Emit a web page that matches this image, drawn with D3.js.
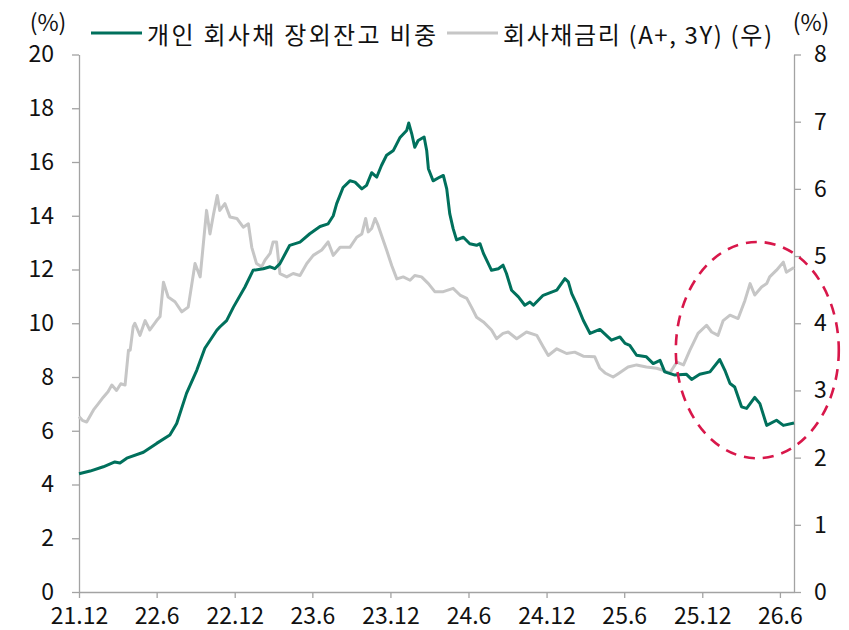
<!DOCTYPE html>
<html>
<head>
<meta charset="utf-8">
<script src="https://cdn.jsdelivr.net/npm/d3@7/dist/d3.min.js"></script>
<style>
  html, body { margin: 0; padding: 0; background: #fff; }
  svg { display: block; }
  text { font-family: "Noto Sans CJK KR", "Noto Sans", sans-serif; fill: #111; }
</style>
</head>
<body>
<svg id="chart" width="849" height="630"></svg>
<script>
// 개인 회사채 장외잔고 비중 (%, left axis)
const shareDates = [
  "2021-12-01","2021-12-27","2022-01-27","2022-02-23","2022-03-07","2022-03-23","2022-05-01","2022-06-01",
  "2022-07-02","2022-07-18","2022-08-10","2022-09-03","2022-09-22","2022-10-20","2022-10-27","2022-11-12",
  "2022-11-28","2022-12-25","2023-01-13","2023-02-06","2023-02-22","2023-03-05","2023-03-17","2023-04-09",
  "2023-05-03","2023-05-26","2023-06-19","2023-07-08","2023-07-20","2023-07-28","2023-08-12","2023-08-28",
  "2023-09-09","2023-09-25","2023-10-06","2023-10-18","2023-10-30","2023-11-10","2023-11-22","2023-12-08",
  "2023-12-23","2024-01-08","2024-01-13","2024-01-20","2024-01-27","2024-02-04","2024-02-18","2024-02-24",
  "2024-02-28","2024-03-10","2024-03-26","2024-04-03","2024-04-11","2024-04-18","2024-04-26","2024-05-04",
  "2024-05-20","2024-06-04","2024-06-20","2024-06-28","2024-07-06","2024-07-25","2024-08-10","2024-08-21",
  "2024-08-29","2024-09-10","2024-09-26","2024-10-11","2024-10-23","2024-10-31","2024-11-23","2024-12-25",
  "2025-01-13","2025-01-21","2025-01-29","2025-02-09","2025-02-25","2025-03-13","2025-04-05","2025-05-02",
  "2025-05-22","2025-06-03","2025-06-14","2025-06-30","2025-07-23","2025-08-08","2025-08-24","2025-09-04",
  "2025-09-28","2025-10-25","2025-11-06","2025-11-25","2025-12-19","2026-01-11","2026-01-23","2026-02-04",
  "2026-02-15","2026-03-03","2026-03-15","2026-04-03","2026-04-15","2026-05-01","2026-05-24","2026-06-09",
  "2026-07-04"
];
const shareValues = [
  4.40, 4.50, 4.66, 4.84, 4.80, 4.98, 5.20, 5.53,
  5.84, 6.27, 7.39, 8.25, 9.07, 9.74, 9.86, 10.10,
  10.60, 11.35, 11.97, 12.03, 12.10, 12.03, 12.22, 12.90,
  13.02, 13.33, 13.60, 13.70, 14.00, 14.45, 15.05, 15.30,
  15.25, 15.00, 15.13, 15.60, 15.44, 15.87, 16.25, 16.43,
  16.90, 17.17, 17.45, 17.05, 16.55, 16.80, 16.93, 16.43,
  15.75, 15.30, 15.44, 15.50, 15.00, 14.08, 13.52, 13.10,
  13.20, 12.96, 12.90, 12.96, 12.60, 11.97, 12.03, 12.16,
  11.85, 11.23, 10.98, 10.67, 10.79, 10.67, 11.04, 11.23,
  11.66, 11.54, 11.10, 10.73, 10.11, 9.62, 9.77, 9.37,
  9.49, 9.25, 9.18, 8.81, 8.75, 8.50, 8.62, 8.19,
  8.07, 8.10, 7.91, 8.10, 8.19, 8.65, 8.25, 7.76,
  7.63, 6.89, 6.83, 7.24, 7.01, 6.20, 6.39, 6.20,
  6.29
];

// 회사채금리 (A+, 3Y) (%, right axis)
const yieldDates = [
  "2021-12-01","2021-12-10","2021-12-19","2022-01-04","2022-01-15","2022-01-27","2022-02-07","2022-02-16",
  "2022-02-27","2022-03-09","2022-03-19","2022-03-27","2022-03-31","2022-04-07","2022-04-11","2022-04-23",
  "2022-05-05","2022-05-16","2022-06-01","2022-06-09","2022-06-17","2022-06-28","2022-07-14","2022-07-30",
  "2022-08-14","2022-08-30","2022-09-11","2022-09-26","2022-10-04","2022-10-12","2022-10-21","2022-10-27",
  "2022-11-08","2022-11-20","2022-12-06","2022-12-21","2023-01-02","2023-01-10","2023-01-21","2023-02-02",
  "2023-02-10","2023-02-22","2023-03-01","2023-03-09","2023-03-17","2023-04-02","2023-04-17","2023-05-03",
  "2023-05-19","2023-06-03","2023-06-23","2023-07-08","2023-07-20","2023-08-05","2023-08-28","2023-09-13",
  "2023-09-25","2023-10-04","2023-10-10","2023-10-18","2023-10-26","2023-11-02","2023-11-10","2023-11-22",
  "2023-12-04","2023-12-16","2023-12-31","2024-01-16","2024-01-27","2024-02-12","2024-02-28","2024-03-14",
  "2024-04-03","2024-04-26","2024-05-12","2024-05-28","2024-06-08","2024-06-20","2024-07-06","2024-07-25",
  "2024-08-06","2024-08-21","2024-09-02","2024-09-22","2024-10-15","2024-11-08","2024-11-23","2024-12-05",
  "2024-12-25","2025-01-17","2025-02-05","2025-02-25","2025-03-24","2025-04-05","2025-04-17","2025-05-06",
  "2025-05-18","2025-06-10","2025-06-30","2025-07-23","2025-08-16","2025-08-31","2025-09-16","2025-10-02",
  "2025-10-18","2025-11-02","2025-11-21","2025-12-11","2025-12-23","2026-01-07","2026-01-19","2026-02-04",
  "2026-02-23","2026-03-11","2026-03-23","2026-04-03","2026-04-19","2026-05-01","2026-05-08","2026-05-24",
  "2026-06-09","2026-06-16","2026-07-04"
];
const yieldValues = [
  2.61, 2.55, 2.53, 2.71, 2.80, 2.90, 2.98, 3.08,
  3.00, 3.10, 3.08, 3.60, 3.60, 3.95, 4.00, 3.82,
  4.04, 3.90, 4.04, 4.10, 4.61, 4.39, 4.32, 4.17,
  4.24, 4.89, 4.69, 5.68, 5.33, 5.61, 5.90, 5.68,
  5.78, 5.58, 5.56, 5.43, 5.48, 5.13, 4.89, 4.84,
  4.94, 5.04, 5.21, 5.21, 4.74, 4.69, 4.74, 4.71,
  4.89, 5.01, 5.09, 5.21, 5.01, 5.13, 5.13, 5.28,
  5.33, 5.56, 5.36, 5.41, 5.56, 5.46, 5.31, 5.09,
  4.86, 4.66, 4.69, 4.64, 4.71, 4.69, 4.59, 4.47,
  4.47, 4.52, 4.42, 4.37, 4.24, 4.09, 4.02, 3.90,
  3.77, 3.85, 3.87, 3.77, 3.87, 3.82, 3.65, 3.52,
  3.62, 3.55, 3.57, 3.51, 3.50, 3.33, 3.26, 3.20,
  3.25, 3.35, 3.38, 3.35, 3.33, 3.30, 3.26, 3.42,
  3.38, 3.60, 3.85, 3.97, 3.87, 3.82, 4.04, 4.12,
  4.07, 4.34, 4.59, 4.42, 4.54, 4.59, 4.69, 4.79,
  4.91, 4.76, 4.83
];

// Axis ticks
const xTickDates = ["2021-12-01","2022-06-01","2022-12-01","2023-06-01","2023-12-01",
                    "2024-06-01","2024-12-01","2025-06-01","2025-12-01","2026-06-01"];
const leftTicks = [0, 2, 4, 6, 8, 10, 12, 14, 16, 18, 20];
const rightTicks = [0, 1, 2, 3, 4, 5, 6, 7, 8];

// Legend entries
const seriesNames = ["개인 회사채 장외잔고 비중", "회사채금리 (A+, 3Y) (우)"];
const seriesColors = ["#00705c", "#c6c6c6"];

// Highlighted region (dashed ellipse): centre date / right-axis value, half-width in days, half-height in %
const highlight = { date: "2026-04-09", value: 3.6, halfDays: 191, halfValue: 1.61 };

const parse = d3.timeParse("%Y-%m-%d");
const svg = d3.select("#chart");

const x = d3.scaleTime()
  .domain([parse("2021-12-01"), parse("2026-07-04")])
  .range([79, 794]);
const yL = d3.scaleLinear().domain([0, 20]).range([592, 54.5]);
const yR = d3.scaleLinear().domain([0, 8]).range([592, 54.5]);

const axisColor = "#a3a3a3";
const fontSize = 23;
const fontStack = '"Noto Sans CJK KR", "Noto Sans", sans-serif';

// Left axis
const gL = svg.append("g").attr("transform", "translate(79,0)")
  .call(d3.axisLeft(yL).tickValues(leftTicks).tickSize(7).tickSizeOuter(0).tickPadding(18));
// Right axis
const gR = svg.append("g").attr("transform", "translate(794,0)")
  .call(d3.axisRight(yR).tickValues(rightTicks).tickSize(7).tickSizeOuter(0).tickPadding(13));
// Bottom axis
const gX = svg.append("g").attr("transform", "translate(0,592)")
  .call(d3.axisBottom(x).tickValues(xTickDates.map(parse)).tickFormat(d3.timeFormat("%y.%-m"))
    .tickSize(6).tickSizeOuter(0).tickPadding(10));

[gL, gR, gX].forEach(g => {
  g.selectAll("path.domain").attr("stroke", axisColor).attr("stroke-width", 1.3);
  g.selectAll(".tick line").attr("stroke", axisColor).attr("stroke-width", 1.3);
  g.selectAll(".tick text").attr("font-size", fontSize).attr("fill", "#111")
    .style("font-family", fontStack);
});

// Unit labels
svg.append("text").attr("x", 48).attr("y", 21).attr("text-anchor", "middle")
  .attr("dominant-baseline", "central").attr("font-size", fontSize).text("(%)");
svg.append("text").attr("x", 811).attr("y", 21).attr("text-anchor", "middle")
  .attr("dominant-baseline", "central").attr("font-size", fontSize).text("(%)");

// Series lines
const lineL = d3.line().x(d => x(d[0])).y(d => yL(d[1]));
const lineR = d3.line().x(d => x(d[0])).y(d => yR(d[1]));
const shareData = shareDates.map((d, i) => [parse(d), shareValues[i]]);
const yieldData = yieldDates.map((d, i) => [parse(d), yieldValues[i]]);

svg.append("path").datum(yieldData).attr("d", lineR)
  .attr("fill", "none").attr("stroke", seriesColors[1]).attr("stroke-width", 3)
  .attr("stroke-linejoin", "round");
svg.append("path").datum(shareData).attr("d", lineL)
  .attr("fill", "none").attr("stroke", seriesColors[0]).attr("stroke-width", 3)
  .attr("stroke-linejoin", "round");

// Dashed highlight ellipse
const hc = parse(highlight.date);
const cx = x(hc), cy = yR(highlight.value);
const rx = x(d3.timeDay.offset(hc, highlight.halfDays)) - cx;
const ry = yR(0) - yR(highlight.halfValue);
svg.append("ellipse").attr("cx", cx).attr("cy", cy).attr("rx", rx).attr("ry", ry)
  .attr("fill", "none").attr("stroke", "#d8174a").attr("stroke-width", 2.6)
  .attr("stroke-dasharray", "11,8");

// Legend
const legend = svg.append("g");
const legendX = [91, 447];
const legendTextWidth = [289, 269];
seriesNames.forEach((name, i) => {
  const g = legend.append("g").attr("transform", `translate(${legendX[i]},33)`);
  g.append("line").attr("x1", 0).attr("x2", 51).attr("y1", 0).attr("y2", 0)
    .attr("stroke", seriesColors[i]).attr("stroke-width", 3);
  g.append("text").attr("x", 56).attr("y", 0).attr("dominant-baseline", "central")
    .attr("font-size", 24).attr("textLength", legendTextWidth[i]).attr("lengthAdjust", "spacing")
    .text(name);
});
</script>
</body>
</html>
